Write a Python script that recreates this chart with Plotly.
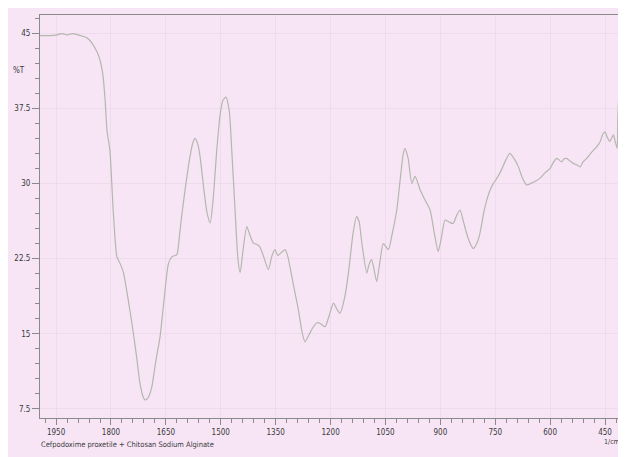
import plotly.graph_objects as go

# Wavenumber (1/cm) and %T values
wavenumber = [1994, 1966, 1950, 1934, 1920, 1906, 1893, 1879, 1865, 1852, 1838, 1830,
              1822, 1816, 1811, 1803, 1794, 1784, 1775, 1766, 1753, 1739, 1729, 1721,
              1712, 1707, 1699, 1689, 1677, 1666, 1655, 1643, 1633, 1620, 1614, 1607,
              1595, 1584, 1576, 1570, 1562, 1557, 1546, 1538, 1529, 1521, 1511, 1502,
              1494, 1486, 1477, 1470, 1461, 1453, 1447, 1439, 1429, 1420, 1411, 1401,
              1393, 1382, 1370, 1360, 1352, 1344, 1335, 1324, 1316, 1311, 1300, 1288,
              1278, 1270, 1259, 1247, 1237, 1229, 1215, 1204, 1192, 1182, 1174, 1161,
              1150, 1139, 1129, 1122, 1114, 1101, 1095, 1088, 1081, 1074, 1065, 1056,
              1042, 1032, 1019, 1010, 1002, 997, 988, 978, 969, 955, 942, 928, 917, 906,
              898, 887, 876, 865, 855, 846, 838, 828, 819, 810, 800, 792, 781, 773, 764,
              755, 745, 733, 721, 710, 699, 687, 677, 664, 650, 639, 628, 614, 600, 592,
              582, 576, 568, 562, 555, 546, 537, 527, 518, 510, 500, 488, 473, 464, 456,
              450, 445, 437, 427, 423, 417, 415, 412, 409]
transmittance = [44.75, 44.75, 44.8, 44.95, 44.8, 44.95, 44.85, 44.7, 44.5, 44.0, 43.1, 42.3,
                 40.8, 38.3, 35.3, 33.3, 27.35, 22.7, 22.0, 21.1, 18.4, 15.1, 12.4, 10.1,
                 8.7, 8.4, 8.6, 9.6, 12.4, 14.7, 18.4, 22.0, 22.7, 22.9, 24.4, 26.7,
                 30.05, 32.7, 34.1, 34.5, 33.8, 32.8, 29.35, 27.15, 26.05, 28.35, 33.3, 36.8,
                 38.3, 38.6, 37.3, 33.3, 27.35, 22.4, 21.1, 23.4, 25.7, 24.8, 24.05, 23.9,
                 23.65, 22.6, 21.4, 22.8, 23.4, 22.8, 23.1, 23.4, 22.6, 21.7, 19.6, 17.4,
                 15.2, 14.2, 14.9, 15.7, 16.1, 16.05, 15.7, 16.8, 18.05, 17.4, 17.05, 18.7,
                 21.4, 24.9, 26.7, 26.2, 23.9, 21.05, 21.9, 22.4, 21.4, 20.2, 22.2, 24.0,
                 23.4, 24.9, 27.35, 30.3, 32.8, 33.5, 32.5, 30.0, 30.7, 29.35, 28.35, 27.35, 25.15, 23.2,
                 24.4, 26.35, 26.15, 26.0, 26.85, 27.35, 26.35, 25.0, 24.05, 23.5, 24.05, 25.0, 27.15, 28.35, 29.35,
                 30.0, 30.55, 31.35, 32.35, 33.0, 32.5, 31.7, 30.65, 29.85, 30.05, 30.25, 30.5, 31.05, 31.5, 32.05,
                 32.5, 32.35, 32.15, 32.45, 32.5, 32.25, 32.0, 31.85, 31.65, 32.15, 32.5, 33.05, 33.65, 34.1, 34.9,
                 35.15, 34.7, 34.2, 34.85, 34.3, 33.5, 36.3, 39.3, 34.3]

x_ticks = [1950, 1800, 1650, 1500, 1350, 1200, 1050, 900, 750, 600, 450]
y_ticks = [7.5, 15, 22.5, 30, 37.5, 45]
y_tick_labels = ["7.5", "15", "22.5", "30", "37.5", "45"]

PINK = "#f7e5f6"
LINE = "#b5b6ae"
AXIS = "#8a8a8a"
TEXT = "#3a3a3a"
GRID = "#eedbee"
FONT = "Liberation Sans Narrow, DejaVu Sans Condensed, Liberation Sans, Arial"

fig = go.Figure()
fig.add_trace(go.Scatter(x=wavenumber, y=transmittance, mode="lines",
                         line=dict(color=LINE, width=1.2, shape="spline", smoothing=0.6),
                         hoverinfo="x+y", showlegend=False))

fig.update_layout(
    template="none",
    width=618, height=449,
    margin=dict(l=32, r=4, t=7, b=39, autoexpand=False),
    paper_bgcolor=PINK,
    plot_bgcolor=PINK,
    font=dict(family=FONT, size=8, color=TEXT),
    annotations=[
        dict(text="%T", xref="paper", yref="y", x=-0.022, y=41.3, showarrow=False,
             xanchor="right", font=dict(family=FONT, size=8, color=TEXT)),
        dict(text="1/cm", xref="paper", yref="paper", x=1.0, y=-0.045, showarrow=False,
             xanchor="right", yanchor="top", font=dict(family=FONT, size=7, color=TEXT)),
        dict(text="Cefpodoxime proxetile + Chitosan Sodium Alginate", xref="paper", yref="paper",
             x=-0.002, y=-0.05, showarrow=False, xanchor="left", yanchor="top",
             font=dict(family=FONT, size=7.5, color=TEXT)),
    ],
)

fig.update_xaxes(range=[1994, 403.6], tickvals=x_ticks, ticks="outside", ticklen=6,
                 tickcolor=AXIS, showline=True, linecolor=AXIS, linewidth=1, mirror=True,
                 showgrid=True, gridcolor=GRID, gridwidth=1, zeroline=False, automargin=False,
                 minor=dict(dtick=30, tick0=0, ticks="outside", ticklen=4, tickcolor=AXIS, showgrid=False),
                 tickfont=dict(family=FONT, size=8, color=TEXT))
fig.update_yaxes(range=[6.6, 46.8], tickvals=y_ticks, ticktext=y_tick_labels, ticks="outside",
                 ticklen=7, tickcolor=AXIS, showline=True, linecolor=AXIS, linewidth=1, mirror=True,
                 showgrid=True, gridcolor=GRID, gridwidth=1, zeroline=False, automargin=False,
                 minor=dict(dtick=1.5, tick0=0, ticks="outside", ticklen=4, tickcolor=AXIS, showgrid=False),
                 tickfont=dict(family=FONT, size=8, color=TEXT))

fig.write_html("out.html")
